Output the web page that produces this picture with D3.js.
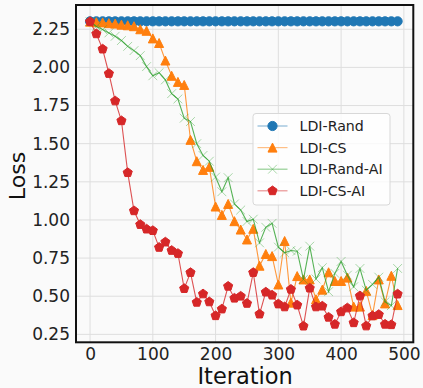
<!DOCTYPE html>
<html>
<head>
<meta charset="utf-8">
<script src="https://cdn.jsdelivr.net/npm/d3@7"></script>
<style>
  html, body { margin: 0; padding: 0; background: #fafafa; }
  svg { display: block; font-family: "DejaVu Sans", sans-serif; }
</style>
</head>
<body>
<svg id="chart" width="423" height="388"></svg>
<script>
const iterations = d3.range(0, 500, 10);
const seriesNames = ["LDI-Rand", "LDI-CS", "LDI-Rand-AI", "LDI-CS-AI"];
const ldiRand = [2.302, 2.302, 2.302, 2.302, 2.302, 2.302, 2.302, 2.302, 2.302, 2.302,
  2.302, 2.302, 2.302, 2.302, 2.302, 2.302, 2.302, 2.302, 2.302, 2.302,
  2.302, 2.302, 2.302, 2.302, 2.302, 2.302, 2.302, 2.302, 2.302, 2.302,
  2.302, 2.302, 2.302, 2.302, 2.302, 2.302, 2.302, 2.302, 2.302, 2.302,
  2.302, 2.302, 2.302, 2.302, 2.302, 2.302, 2.302, 2.302, 2.302, 2.302];
const ldiCS = [2.30, 2.296, 2.295, 2.29, 2.287, 2.28, 2.276, 2.27, 2.25, 2.24,
  2.19, 2.16, 2.045, 1.945, 1.905, 1.885, 1.525, 1.385, 1.328, 1.348,
  1.088, 1.033, 1.105, 0.992, 0.937, 0.872, 0.942, 0.70, 0.777, 0.763,
  0.577, 0.862, 0.458, 0.632, 0.61, 0.61, 0.48, 0.543, 0.657, 0.60,
  0.60, 0.622, 0.432, 0.432, 0.535, 0.376, 0.61, 0.453, 0.634, 0.442];
const ldiRandAI = [2.30, 2.268, 2.248, 2.226, 2.204, 2.176, 2.138, 2.11, 2.077, 2.005,
  1.945, 1.965, 1.918, 1.828, 1.793, 1.667, 1.645, 1.50, 1.423, 1.385,
  1.281, 1.185, 1.277, 1.105, 1.065, 0.99, 1.005, 0.85, 0.952, 0.978,
  0.822, 0.785, 0.80, 0.795, 0.61, 0.828, 0.613, 0.687, 0.53, 0.65,
  0.728, 0.638, 0.562, 0.682, 0.54, 0.578, 0.625, 0.464, 0.438, 0.682];
const ldiCSAI = [2.30, 2.22, 2.12, 1.96, 1.78, 1.65, 1.31, 1.06, 0.97, 0.94,
  0.93, 0.82, 0.855, 0.80, 0.78, 0.55, 0.655, 0.46, 0.515, 0.463,
  0.372, 0.416, 0.565, 0.487, 0.50, 0.453, 0.655, 0.383, 0.527, 0.507,
  0.449, 0.43, 0.545, 0.442, 0.304, 0.553, 0.43, 0.435, 0.362, 0.316,
  0.398, 0.423, 0.326, 0.502, 0.305, 0.371, 0.38, 0.316, 0.313, 0.514];
const xTicks = [0, 100, 200, 300, 400, 500];
const yTicks = [0.25, 0.50, 0.75, 1.00, 1.25, 1.50, 1.75, 2.00, 2.25];
const colors = ["#1f77b4", "#ff7f0e", "#2ca02c", "#d62728"];
const markers = ["circle", "triangle", "x", "pentagon"];
const allSeries = [ldiRand, ldiCS, ldiRandAI, ldiCSAI];

const svg = d3.select("#chart");
const L = 76, R = 413.3, T = 5, B = 342.3;
const x = d3.scaleLinear().domain([-22.4, 515]).range([L, R]);
const y = d3.scaleLinear().domain([0.198, 2.409]).range([B, T]);

// grid
svg.append("g").selectAll("line").data(xTicks).join("line")
  .attr("x1", d => x(d)).attr("x2", d => x(d)).attr("y1", T).attr("y2", B)
  .attr("stroke", "#dedede").attr("stroke-width", 1);
svg.append("g").selectAll("line").data(yTicks).join("line")
  .attr("y1", d => y(d)).attr("y2", d => y(d)).attr("x1", L).attr("x2", R)
  .attr("stroke", "#dedede").attr("stroke-width", 1);

// axes (labels via d3 axes, no tick marks)
const xAxis = svg.append("g").attr("transform", `translate(0,${B})`)
  .call(d3.axisBottom(x).tickValues(xTicks).tickSize(0).tickPadding(6).tickFormat(d3.format("d")));
const yAxis = svg.append("g").attr("transform", `translate(${L},0)`)
  .call(d3.axisLeft(y).tickValues(yTicks).tickSize(0).tickPadding(6).tickFormat(d3.format(".2f")));
[xAxis, yAxis].forEach(a => {
  a.select(".domain").remove();
  a.selectAll("text").attr("font-size", 17).attr("fill", "#222").attr("font-family", "DejaVu Sans");
});

function markerPath(type, r) {
  if (type === "circle") return d3.symbol(d3.symbolCircle, Math.PI * r * r)();
  if (type === "triangle") return `M0,${-r}L${r},${r}L${-r},${r}Z`;
  if (type === "x") return `M${-r},${-r}L${r},${r}M${-r},${r}L${r},${-r}`;
  if (type === "pentagon") {
    const pts = d3.range(5).map(i => {
      const a = -Math.PI / 2 + i * 2 * Math.PI / 5;
      return [r * Math.cos(a), r * Math.sin(a)];
    });
    return "M" + pts.map(p => p.join(",")).join("L") + "Z";
  }
}
const markerR = [4.6, 4.5, 4.4, 4.8];

const line = d3.line().x((d, i) => x(iterations[i])).y(d => y(d));
const plot = svg.append("g");
allSeries.forEach((s, k) => {
  const g = plot.append("g");
  g.append("path").datum(s).attr("d", line)
    .attr("fill", "none").attr("stroke", colors[k]).attr("stroke-width", 1.1).attr("stroke-opacity", 0.8);
  const isX = markers[k] === "x";
  g.selectAll("path.m").data(s).join("path").attr("class", "m")
    .attr("transform", (d, i) => `translate(${x(iterations[i])},${y(d)})`)
    .attr("d", markerPath(markers[k], markerR[k]))
    .attr("fill", isX ? "none" : colors[k])
    .attr("stroke", colors[k])
    .attr("stroke-width", 1)
    .attr("stroke-opacity", isX ? 0.4 : 1);
});

// spines
svg.append("rect").attr("x", L).attr("y", T).attr("width", R - L).attr("height", B - T)
  .attr("fill", "none").attr("stroke", "#111").attr("stroke-width", 2);

// axis titles
svg.append("text").attr("x", (L + R) / 2 + 0.5).attr("y", 384)
  .attr("text-anchor", "middle").attr("font-size", 22.5).attr("fill", "#111").text("Iteration");
svg.append("text").attr("transform", "translate(25,176) rotate(-90)")
  .attr("text-anchor", "middle").attr("font-size", 22).attr("fill", "#111").text("Loss");

// legend
const lg = svg.append("g");
lg.append("rect").attr("x", 253).attr("y", 113.5).attr("width", 137).attr("height", 91.5)
  .attr("rx", 3).attr("fill", "#fff").attr("fill-opacity", 0.8).attr("stroke", "#d8d8d8").attr("stroke-width", 1);
seriesNames.forEach((name, k) => {
  const cy = 126 + k * 21.6;
  lg.append("line").attr("x1", 257.5).attr("x2", 287.5).attr("y1", cy).attr("y2", cy)
    .attr("stroke", colors[k]).attr("stroke-width", 1.2).attr("stroke-opacity", 0.5);
  const isX = markers[k] === "x";
  lg.append("path").attr("transform", `translate(272.5,${cy})`)
    .attr("d", markerPath(markers[k], markerR[k]))
    .attr("fill", isX ? "none" : colors[k]).attr("stroke", colors[k])
    .attr("stroke-opacity", isX ? 0.4 : 1);
  lg.append("text").attr("x", 299.5).attr("y", cy + 5).attr("font-size", 14.2).attr("fill", "#222").text(name);
});
</script>
</body>
</html>
